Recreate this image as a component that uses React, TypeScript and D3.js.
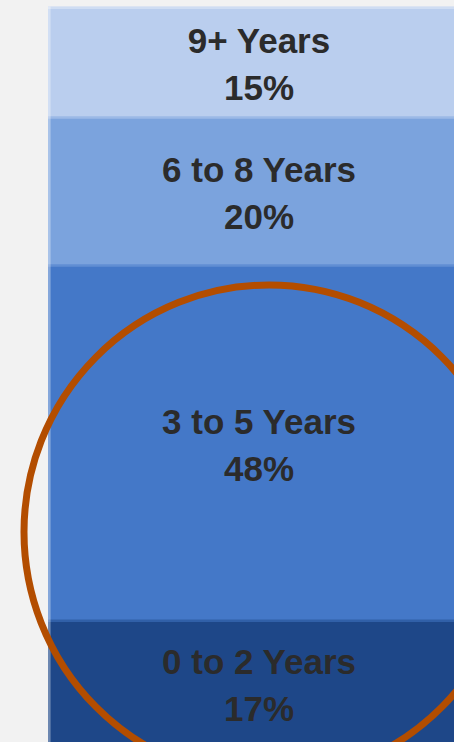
import React from "react";
import * as d3 from "d3";

const categories = ["0 to 2 Years", "3 to 5 Years", "6 to 8 Years", "9+ Years"];
const shares = [17, 48, 20, 15];
const colors = ["#1E4788", "#4478C8", "#7BA3DD", "#BACEEE"];

const W = 454;
const H = 742;

export default function App() {
  const barLeft = 48;
  const barWidth = 422;
  const y = d3.scaleLinear().domain([0, 100]).range([746.5, 6.5]);
  const stack = d3.stack<any>().keys(categories)([
    Object.fromEntries(categories.map((c, i) => [c, shares[i]])),
  ]);
  const segs = stack.map((s, i) => ({
    name: categories[i],
    value: shares[i],
    color: colors[i],
    y0: y(s[0][1]),
    y1: y(s[0][0]),
  }));
  const cx = barLeft + barWidth / 2;

  return (
    <svg
      width={W}
      height={H}
      style={{ position: "absolute", left: 0, top: 0, display: "block" }}
    >
      <rect x={0} y={0} width={W} height={H} fill="#F2F2F2" />
      {segs.map((s) => (
        <rect
          key={s.name}
          x={barLeft}
          y={s.y0}
          width={barWidth}
          height={s.y1 - s.y0}
          fill={s.color}
        />
      ))}
      {segs.slice(0, -1).map((s, i) => (
        <line
          key={"b" + i}
          x1={barLeft}
          x2={barLeft + barWidth}
          y1={s.y0}
          y2={s.y0}
          stroke={d3.interpolateRgb(s.color, segs[i + 1].color)(0.5)}
          strokeWidth={2.5}
        />
      ))}
      <line
        x1={barLeft}
        x2={barLeft + barWidth}
        y1={y(100) + 1.2}
        y2={y(100) + 1.2}
        stroke="#fff"
        strokeOpacity={0.3}
        strokeWidth={2.5}
      />
      <line
        x1={barLeft + 1.3}
        x2={barLeft + 1.3}
        y1={y(100)}
        y2={y(0)}
        stroke="#fff"
        strokeOpacity={0.35}
        strokeWidth={2.6}
      />
      {segs.map((s) => {
        const mid = (s.y0 + s.y1) / 2;
        return (
          <text
            key={"t" + s.name}
            x={cx}
            textAnchor="middle"
            fontFamily="'Liberation Sans', Arial, sans-serif"
            fontWeight="bold"
            fontSize={35}
            fill="#2B2B2B"
          >
            <tspan x={cx} y={mid - 9.5}>{s.name}</tspan>
            <tspan x={cx} y={mid + 37.5}>{s.value}%</tspan>
          </text>
        );
      })}
      <ellipse
        cx={269}
        cy={532}
        rx={245}
        ry={247}
        fill="none"
        stroke="#B34D00"
        strokeWidth={7}
      />
    </svg>
  );
}
